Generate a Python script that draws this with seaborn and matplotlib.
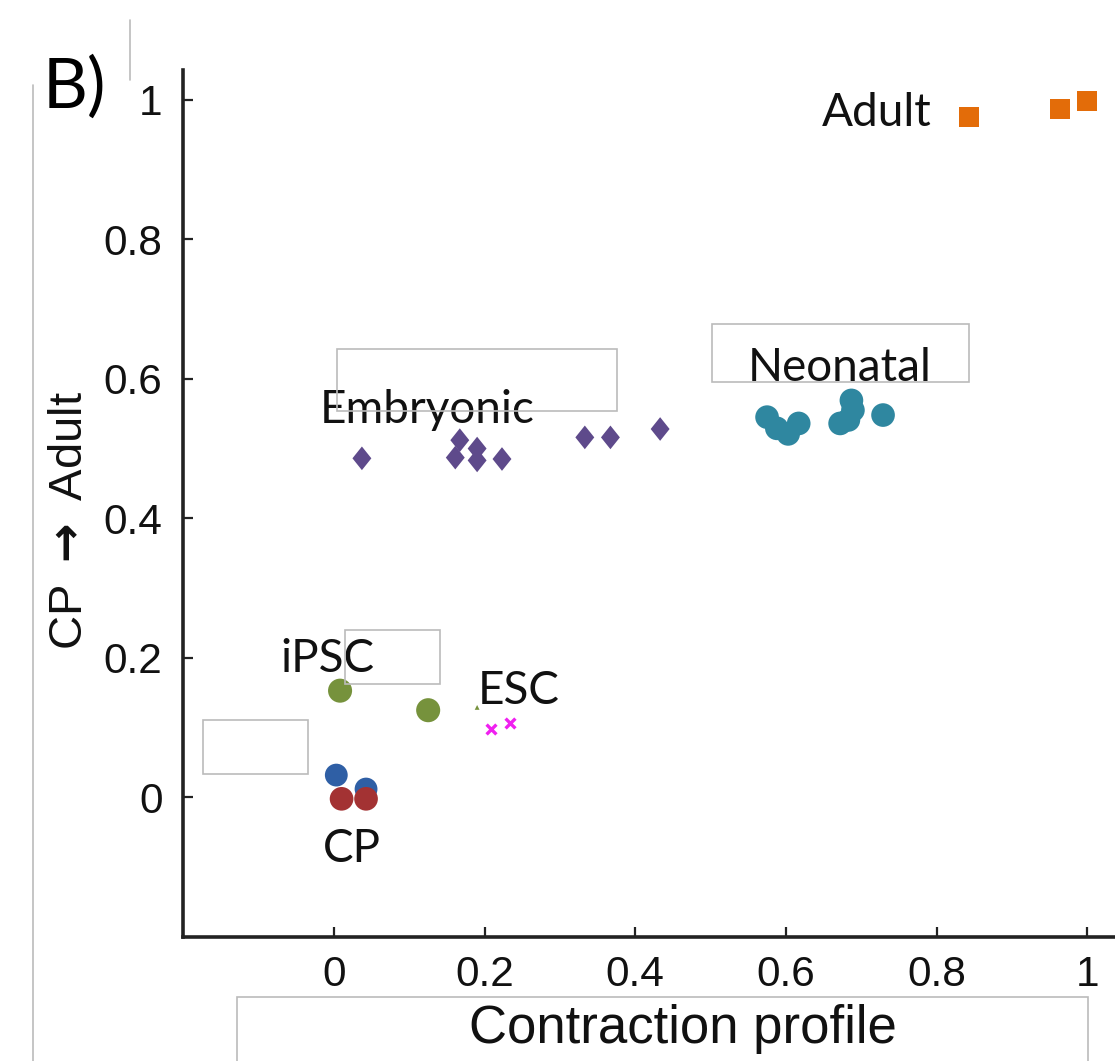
import numpy as np
import pandas as pd
import matplotlib
matplotlib.use("Agg")
import matplotlib.pyplot as plt
from matplotlib.patches import Rectangle
from matplotlib.lines import Line2D
import seaborn as sns

# ---- data ----
adult_x = [0.843, 0.964, 1.000]
adult_y = [0.975, 0.987, 0.998]

embryonic_x = [0.037, 0.167, 0.161, 0.190, 0.190, 0.223, 0.333, 0.367, 0.433]
embryonic_y = [0.486, 0.512, 0.487, 0.500, 0.483, 0.485, 0.516, 0.516, 0.528]

neonatal_x = [0.575, 0.588, 0.603, 0.617, 0.687, 0.689, 0.672, 0.683, 0.729]
neonatal_y = [0.545, 0.529, 0.521, 0.536, 0.569, 0.555, 0.536, 0.541, 0.548]

ipsc_x = [0.008, 0.125]
ipsc_y = [0.153, 0.125]

stray_x = [0.190]
stray_y = [0.129]

esc_x = [0.209, 0.233]
esc_y = [0.098, 0.106]

cp_blue_x = [0.003, 0.0425]
cp_blue_y = [0.032, 0.012]
cp_red_x = [0.010, 0.0425]
cp_red_y = [-0.002, -0.002]

x_ticks = [0, 0.2, 0.4, 0.6, 0.8, 1]
x_tick_labels = ["0", "0.2", "0.4", "0.6", "0.8", "1"]
y_ticks = [0, 0.2, 0.4, 0.6, 0.8, 1]
y_tick_labels = ["0", "0.2", "0.4", "0.6", "0.8", "1"]

sns.set_style("ticks")
plt.rcParams['font.family'] = ['Liberation Sans', 'DejaVu Sans']
plt.rcParams['mathtext.fontset'] = 'dejavusans'

fig = plt.figure(figsize=(11.15, 10.61), dpi=100)
ax = fig.add_axes([0.1645, 0.1169, 1.0 - 0.1645, 0.934 - 0.1169])

diamond = [(0, 1), (0.8, 0), (0, -1), (-0.8, 0), (0, 1)]

def grp(xs, ys):
    return pd.DataFrame({"x": xs, "y": ys})

sns.scatterplot(data=grp(adult_x, adult_y), x="x", y="y", ax=ax, marker="s",
                s=210, color="#E36C09", edgecolor="none", legend=False, clip_on=False)
sns.scatterplot(data=grp(embryonic_x, embryonic_y), x="x", y="y", ax=ax, marker=diamond,
                s=290, color="#5E4A8B", edgecolor="none", legend=False)
sns.scatterplot(data=grp(neonatal_x, neonatal_y), x="x", y="y", ax=ax, marker="o",
                s=290, color="#2F87A0", edgecolor="none", legend=False)
sns.scatterplot(data=grp(ipsc_x, ipsc_y), x="x", y="y", ax=ax, marker="o",
                s=300, color="#76923C", edgecolor="none", legend=False)
sns.scatterplot(data=grp(stray_x, stray_y), x="x", y="y", ax=ax, marker="^",
                s=12, color="#76923C", edgecolor="none", legend=False)
sns.scatterplot(data=grp(esc_x, esc_y), x="x", y="y", ax=ax, marker="x",
                s=50, color="#F020F0", linewidth=2.4, legend=False)
sns.scatterplot(data=grp(cp_blue_x, cp_blue_y), x="x", y="y", ax=ax, marker="o",
                s=270, color="#2F5FA5", edgecolor="none", legend=False)
sns.scatterplot(data=grp(cp_red_x, cp_red_y), x="x", y="y", ax=ax, marker="o",
                s=290, color="#A33233", edgecolor="none", legend=False)

ax.set_xlim(-0.2, 1.037)
ax.set_ylim(-0.2, 1.0425)
for side in ["top", "right"]:
    ax.spines[side].set_visible(False)
for side in ["left", "bottom"]:
    ax.spines[side].set_linewidth(2.6)
    ax.spines[side].set_color("#222222")

ax.set_xticks(x_ticks)
ax.set_xticklabels(x_tick_labels)
ax.set_yticks(y_ticks)
ax.set_yticklabels(y_tick_labels)
ax.tick_params(direction="in", length=7, width=1.6, color="#222222",
               labelsize=30.5, labelcolor="#111111")
ax.tick_params(axis="x", pad=13)
ax.tick_params(axis="y", pad=15)

ax.set_xlabel("Contraction profile", fontsize=38, color="#111111", va="center")
ax.xaxis.set_label_coords(0.536, -0.106)
ax.set_ylabel(r"CP $\mathbf{\rightarrow}$ Adult", fontsize=34, color="#111111", va="center")
ax.yaxis.set_label_coords(-0.1217, 0.481)

lab_font = ['Lato', 'DejaVu Sans']
lab_kw = dict(fontsize=33, family=lab_font, color="#111111", ha="center", va="center")
ax.text(0.721, 0.981, "Adult", **lab_kw)
ax.text(0.672, 0.615, "Neonatal", **lab_kw)
ax.text(0.1235, 0.555, "Embryonic", **lab_kw)
ax.text(-0.0093, 0.199, "iPSC", **lab_kw)
ax.text(0.2457, 0.153, "ESC", **lab_kw)
ax.text(0.024, -0.0746, "CP", **lab_kw)

fig.text(0.067, 0.918, "B)", fontsize=50, family=lab_font, color="#000000",
         ha="center", va="center")

# empty frames and stray lines from the original figure
boxes = [(0.3022, 0.6126, 0.2511, 0.0584),
         (0.6386, 0.6400, 0.2305, 0.0547),
         (0.3094, 0.3553, 0.0852, 0.0509),
         (0.1821, 0.2705, 0.0942, 0.0509),
         (0.2126, -0.0100, 0.7632, 0.0703)]
for (bx, by, bw, bh) in boxes:
    fig.add_artist(Rectangle((bx, by), bw, bh, transform=fig.transFigure,
                             fill=False, edgecolor="#BBBBBB", linewidth=1.2, zorder=5))
fig.add_artist(Line2D([0.1166, 0.1166], [0.981, 0.925], transform=fig.transFigure,
                      color="#BBBBBB", linewidth=1.2))
fig.add_artist(Line2D([0.0296, 0.0296], [0.92, 0.0], transform=fig.transFigure,
                      color="#BBBBBB", linewidth=1.2))

fig.savefig("out.png", dpi=100)
